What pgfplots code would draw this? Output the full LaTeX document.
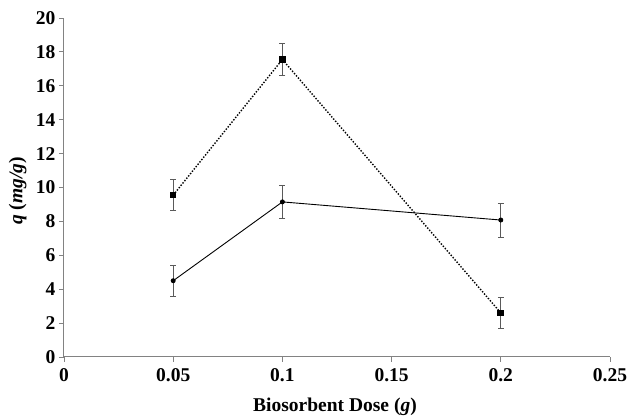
\documentclass[border=0pt]{standalone}
\usepackage{fontspec}
\setmainfont{Liberation Serif}
\usepackage{pgfplots}
\pgfplotsset{compat=1.18}
\definecolor{axgray}{RGB}{130,130,130}
\definecolor{errgray}{RGB}{90,90,90}
\begin{document}
\begin{tikzpicture}
\useasboundingbox (0,0) rectangle (633pt,419pt);
\begin{axis}[
  at={(64pt,62pt)}, anchor=south west,
  scale only axis, width=546pt, height=339pt,
  xmin=0, xmax=0.25, ymin=0, ymax=20,
  axis x line*=bottom, axis y line*=left,
  axis line style={axgray, line width=1pt},
  xtick={0,0.05,0.1,0.15,0.2,0.25},
  xticklabels={0,0.05,0.1,0.15,0.2,0.25},
  ytick={0,2,...,20},
  tick style={axgray, line width=0.8pt},
  tick align=outside, major tick length=5pt,
  /pgf/number format/assume math mode=true,
  tick label style={font=\fontsize{19.5}{21}\selectfont\bfseries},
  xticklabel style={yshift=-3pt},
  xlabel={Biosorbent Dose (\textit{g})},
  ylabel={\textit{q} (\textit{mg/g})},
  label style={font=\fontsize{19.5}{21}\selectfont\bfseries},
  xlabel style={at={(axis description cs:0.4963,0)}, anchor=north, yshift=-37pt},
  ylabel style={at={(axis description cs:0,0.49)}, anchor=south, yshift=34pt},
  clip=false,
]
\addplot[black, dash pattern=on 1.4pt off 1.6pt, line width=1.4pt, mark=square*, mark size=2.6pt,
  mark options={solid},
  error bars/.cd, y dir=both, y explicit,
  error bar style={errgray, line width=0.9pt, solid},
  error mark options={rotate=90, mark size=3pt, errgray, line width=0.9pt}]
coordinates {
 (0.05,9.55) +- (0,0.9)
 (0.1,17.55) +- (0,0.95)
 (0.2,2.6) +- (0,0.93)
};
\addplot[black, solid, line width=0.9pt, mark=*, mark size=2pt,
  error bars/.cd, y dir=both, y explicit,
  error bar style={errgray, line width=0.9pt},
  error mark options={rotate=90, mark size=3pt, errgray, line width=0.9pt}]
coordinates {
 (0.05,4.5) +- (0,0.9)
 (0.1,9.15) +- (0,0.97)
 (0.2,8.08) +- (0,1.0)
};
\end{axis}
\end{tikzpicture}
\end{document}
